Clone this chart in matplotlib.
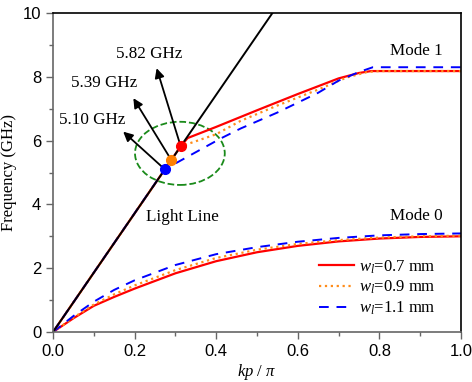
import matplotlib.pyplot as plt
import numpy as np
from matplotlib.patches import Ellipse

# light line (GHz vs kp/pi)
light_kp = [0.0, 0.54]
light_f = [0.0, 10.04]

# Mode 0
m0_kp = [0.0, 0.05, 0.1, 0.15, 0.2, 0.3, 0.4, 0.5, 0.6, 0.7, 0.8, 0.9, 1.0]
m0_red = [0.0, 0.43, 0.82, 1.10, 1.36, 1.84, 2.22, 2.50, 2.70, 2.84, 2.93, 2.98, 3.00]
m0_orange = [0.0, 0.45, 0.86, 1.18, 1.46, 1.94, 2.32, 2.58, 2.76, 2.88, 2.96, 3.00, 3.02]
m0_blue = [0.0, 0.50, 0.95, 1.32, 1.62, 2.10, 2.44, 2.66, 2.83, 2.95, 3.03, 3.07, 3.09]

# Mode 1
m1_red_kp = [0.0, 0.313, 0.33, 0.4, 0.5, 0.6, 0.7, 0.75, 0.78, 1.0]
m1_red = [0.0, 5.82, 6.08, 6.43, 6.95, 7.46, 7.95, 8.12, 8.18, 8.18]
m1_orange_kp = [0.0, 0.29, 0.313, 0.35, 0.4, 0.46, 0.55, 0.65, 0.72, 0.77, 0.8, 1.0]
m1_orange = [0.0, 5.39, 5.82, 5.98, 6.20, 6.62, 7.10, 7.60, 7.98, 8.15, 8.18, 8.18]
m1_blue_kp = [0.0, 0.274, 0.41, 0.46, 0.55, 0.65, 0.70, 0.75, 0.784, 1.0]
m1_blue = [0.0, 5.10, 6.06, 6.38, 6.88, 7.50, 7.88, 8.15, 8.30, 8.30]

dot_kp = [0.274, 0.29, 0.313]
dot_f = [5.10, 5.39, 5.82]
dot_colors = ['blue', '#ff8000', 'red']
dot_labels = ['5.10 GHz', '5.39 GHz', '5.82 GHz']
arrow_tips = [(0.172, 6.28), (0.197, 7.33), (0.254, 8.27)]
label_pos = [(0.097, 6.65), (0.126, 7.8), (0.235, 8.73)]

plt.rcParams['font.family'] = 'Liberation Serif'
plt.rcParams['mathtext.fontset'] = 'custom'
plt.rcParams['mathtext.it'] = 'Liberation Serif:italic'
plt.rcParams['mathtext.rm'] = 'Liberation Serif'

fig = plt.figure(figsize=(4.72, 3.82), dpi=100)
ax = fig.add_axes([53 / 472, 1 - 332 / 382, 408 / 472, 319 / 382])

ax.plot(m0_kp, m0_red, '-', color='red', lw=1.6, label='$w_l$=0.7 mm')
ax.plot(m0_kp, m0_orange, ':', color='#ff8c1a', lw=1.6, label='$w_l$=0.9 mm')
ax.plot(m0_kp, m0_blue, '--', color='blue', lw=1.4, dashes=(5, 4), label='$w_l$=1.1 mm')
ax.plot(m1_red_kp, m1_red, '-', color='red', lw=1.6)
ax.plot(m1_orange_kp, m1_orange, ':', color='#ff8c1a', lw=1.6)
ax.plot(m1_blue_kp, m1_blue, '--', color='blue', lw=1.4, dashes=(5, 4))
ax.plot(light_kp, light_f, '-', color='black', lw=1.4)

ax.add_patch(Ellipse((0.311, 5.6), 0.22, 1.98, fill=False, ec='#1a8a1a',
                     ls='--', lw=1.3))

for x, y, c, lab, tip, lp in zip(dot_kp, dot_f, dot_colors, dot_labels, arrow_tips, label_pos):
    ax.annotate('', xy=tip, xytext=(x, y),
                arrowprops=dict(arrowstyle='-|>', color='black', lw=1.3,
                                mutation_scale=14, shrinkA=0, shrinkB=0))
    ax.plot(x, y, 'o', color=c, ms=7, zorder=5)
    ax.text(lp[0], lp[1], lab, fontsize=12.3, ha='center', va='center')

ax.text(0.89, 8.81, 'Mode 1', fontsize=12.3, ha='center', va='center')
ax.text(0.89, 3.64, 'Mode 0', fontsize=12.3, ha='center', va='center')
ax.text(0.317, 3.61, 'Light Line', fontsize=12.3, ha='center', va='center')

ax.set_xlim(0, 1)
ax.set_ylim(0, 10)
ax.set_xticks(np.arange(0, 1.01, 0.2))
ax.set_xticks(np.arange(0.1, 1.0, 0.2), minor=True)
ax.set_yticks(np.arange(0, 11, 2))
ax.set_yticks(np.arange(1, 10, 2), minor=True)
ax.set_xticklabels(['0.0', '0.2', '0.4', '0.6', '0.8', '1.0'], family='Liberation Sans', fontsize=12)
ax.set_yticklabels(['0', '2', '4', '6', '8', '10'], family='Liberation Sans', fontsize=12)
ax.tick_params(which='both', direction='out', color='#666666', width=1)
ax.tick_params(which='major', length=5)
ax.tick_params(which='minor', length=3)
ax.spines['left'].set_color('#666666')
ax.spines['bottom'].set_color('#666666')
for s in ax.spines.values():
    s.set_linewidth(1.2)

ax.set_xlabel('$kp$ / $\\pi$', fontsize=12, labelpad=2)
ax.set_ylabel('Frequency (GHz)', fontsize=12, labelpad=4)

ax.legend(loc='lower right', bbox_to_anchor=(0.975, 0.0), frameon=False,
          fontsize=12, handlelength=2.1, handletextpad=0.3, labelspacing=0.2)

fig.savefig('out.png', dpi=100)
